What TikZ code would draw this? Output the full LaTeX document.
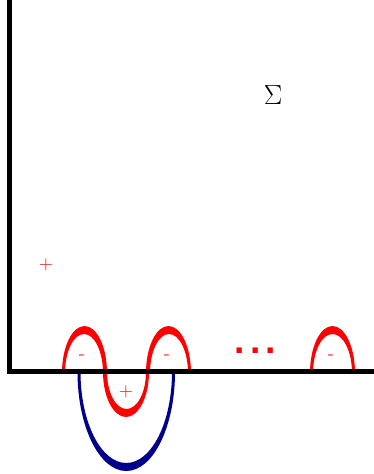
\documentclass[tikz,border=0pt]{standalone}
\usepackage{fontspec}
\newfontfamily\dotfont{Liberation Sans}
\definecolor{deepblue}{RGB}{0,0,140}

\begin{document}
\begin{tikzpicture}[
    x=0.75pt, y=0.75pt,
    axis/.style={draw=black, line width=3.75pt},
    redarc/.style={fill=red, draw=none},
    bluearc/.style={fill=deepblue, draw=none},
    sign/.style={text=red, font=\fontsize{14}{16}\selectfont, inner sep=0pt},
    lbl/.style={font=\fontsize{20}{24}\selectfont, inner sep=0pt}
]
\useasboundingbox (0,0) rectangle (374,474);

% lower blue loop
\fill[bluearc] (77.5,102) arc[start angle=180, end angle=360, x radius=48.75, y radius=99]
    -- (172,102) arc[start angle=0, end angle=-180, x radius=45.75, y radius=91] -- cycle;

% red curve: up, down, up
\fill[redarc] (62,101) arc[start angle=180, end angle=0, x radius=22.5, y radius=47]
    -- (103,101) arc[start angle=0, end angle=180, x radius=19, y radius=39] -- cycle;
\fill[redarc] (103,102) arc[start angle=180, end angle=360, x radius=23, y radius=45]
    -- (146,102) arc[start angle=0, end angle=-180, x radius=19.5, y radius=37] -- cycle;
\fill[redarc] (146,101) arc[start angle=180, end angle=0, x radius=22.5, y radius=47]
    -- (188,101) arc[start angle=0, end angle=180, x radius=19, y radius=39] -- cycle;

% last red arc
\fill[redarc] (310,101) arc[start angle=180, end angle=0, x radius=22.5, y radius=47]
    -- (352,101) arc[start angle=0, end angle=180, x radius=19.5, y radius=39] -- cycle;

% axes
\draw[axis] (9,474) -- (9,102) -- (374,102);

\node[sign] (minusA) at (82,117) {-};
\node[sign] (minusB) at (167,117) {-};
\node[sign] (minusC) at (331,117) {-};
\node[sign] (plusIn) at (126,82) {+};
\node[sign] (plusOut) at (46,209) {+};
\node[text=red, font=\dotfont\bfseries\fontsize{28}{30}\selectfont, inner sep=0pt] (dots) at (255.5,123) {.\kern3.8pt.\kern3.8pt.};
\node[lbl] (sigma) at (273,379) {$\Sigma$};

\end{tikzpicture}
\end{document}
